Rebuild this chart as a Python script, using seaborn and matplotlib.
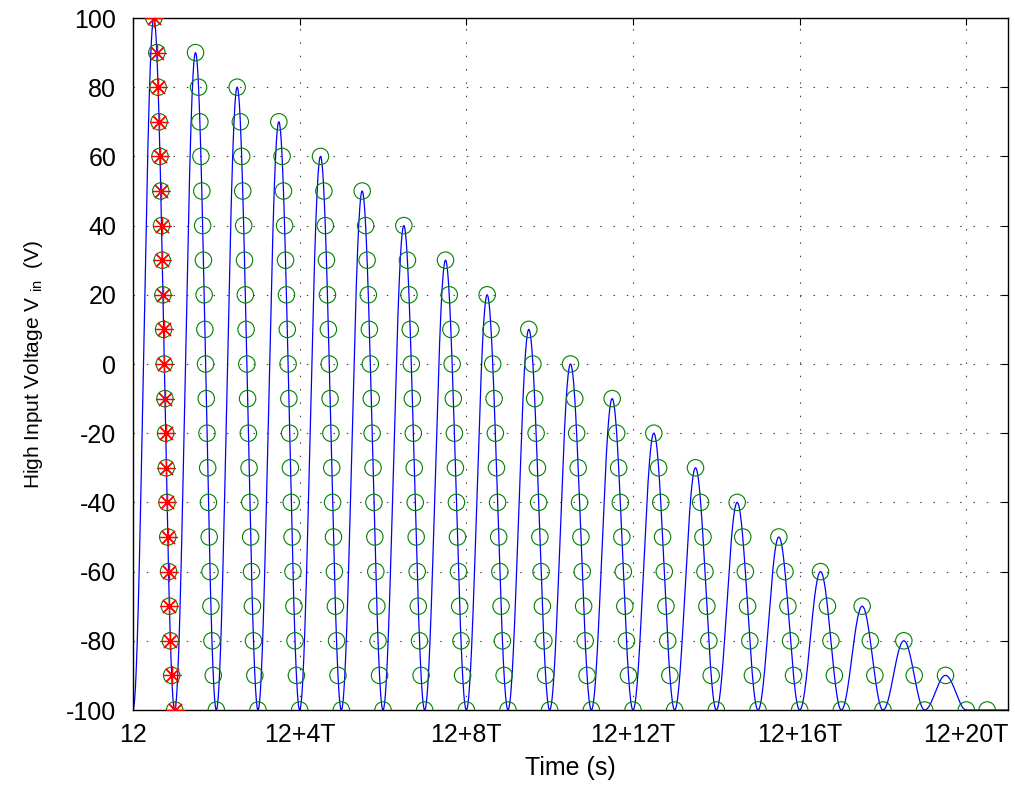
import numpy as np
import pandas as pd
import matplotlib
matplotlib.use("Agg")
import matplotlib.pyplot as plt
import seaborn as sns

# ---- data ----
# peak voltage of each pulse (one pulse per period T, starting at t = 12)
peaks = [100, 90, 80, 70, 60, 50, 40, 30, 20, 10, 0,
         -10, -20, -30, -40, -50, -60, -70, -80, -90, -100]
base_level = -100
level_step = 10
# levels marked with red asterisks on the first pulse
star_levels = [100, 90, 80, 70, 60, 50, 40, 30, 20, 10, 0,
               -10, -20, -30, -40, -50, -60, -70, -80, -90, -100]
x_tick_pos = [0, 4, 8, 12, 16, 20]
x_tick_labels = ["12", "12+4T", "12+8T", "12+12T", "12+16T", "12+20T"]
y_ticks = [-100, -80, -60, -40, -20, 0, 20, 40, 60, 80, 100]

# ---- build curve and marker tables from the pulse peaks ----
def pulse_value(frac, peak):
    return base_level + (peak - base_level) * (1 - np.cos(2 * np.pi * frac)) / 2

def falling_time(k, peak, level):
    if peak == base_level:
        return k + 0.5
    r = (level - base_level) / (peak - base_level)
    theta = 2 * np.pi - np.arccos(1 - 2 * r)
    return k + theta / (2 * np.pi)

rows = []
for k, p in enumerate(peaks):
    frac = np.linspace(0, 1, 121)
    for f, v in zip(frac, pulse_value(frac, p)):
        rows.append((k + f, v))
curve = pd.DataFrame(rows, columns=["t", "v"])

circ = []
for k, p in enumerate(peaks):
    for L in range(p, base_level - 1, -level_step):
        circ.append((falling_time(k, p, L), L))
circles = pd.DataFrame(circ, columns=["t", "v"])

stars = pd.DataFrame([(falling_time(0, peaks[0], L), L) for L in star_levels],
                     columns=["t", "v"])

# ---- plot ----
sns.set_style("white")
plt.rcParams["font.family"] = ["Liberation Sans", "DejaVu Sans"]
plt.rcParams["axes.unicode_minus"] = False
plt.rcParams["mathtext.fontset"] = "custom"
plt.rcParams["mathtext.rm"] = "Liberation Sans"
plt.rcParams["text.color"] = "black"
plt.rcParams["axes.labelcolor"] = "black"

fig = plt.figure(figsize=(10.15, 7.87), dpi=100)
ax = fig.add_axes([133 / 1015, 1 - 710 / 787, (1008 - 133) / 1015, (710 - 18) / 787])

sns.lineplot(data=curve, x="t", y="v", ax=ax, color="#0000ff", lw=0.9,
             sort=False, estimator=None, zorder=2)
sns.scatterplot(data=circles, x="t", y="v", ax=ax, marker="o", s=140,
                facecolors="none", edgecolor="#008000", linewidth=0.8, zorder=3)
sns.scatterplot(data=stars, x="t", y="v", ax=ax, marker=(8, 2, 0), s=160,
                color="#ff0000", edgecolor="#ff0000", linewidth=0.9, zorder=4)

ax.set_xlim(0, 21)
ax.set_ylim(-100, 100)
ax.set_xticks(x_tick_pos)
ax.set_xticklabels(x_tick_labels)
ax.set_yticks(y_ticks)
ax.set_yticklabels([str(v) for v in y_ticks])
ax.tick_params(axis="both", which="both", direction="in", length=5, width=0.8,
               top=True, right=True, labelsize=18, colors="black",
               labelcolor="black")
ax.tick_params(axis="x", pad=9)
ax.tick_params(axis="y", pad=12)
ax.grid(True, linestyle=(0, (1.3, 10.7)), linewidth=0.8, color="0.25")
for s in ax.spines.values():
    s.set_color("black")
    s.set_linewidth(1.0)
ax.set_xlabel("Time (s)", fontsize=18, labelpad=7, color="black")
ax.set_ylabel(r"High Input Voltage V$\;_{\rm in}$  (V)", fontsize=15,
              labelpad=15, color="black")
ax.set_axisbelow(True)

fig.savefig("out.png", dpi=100)
